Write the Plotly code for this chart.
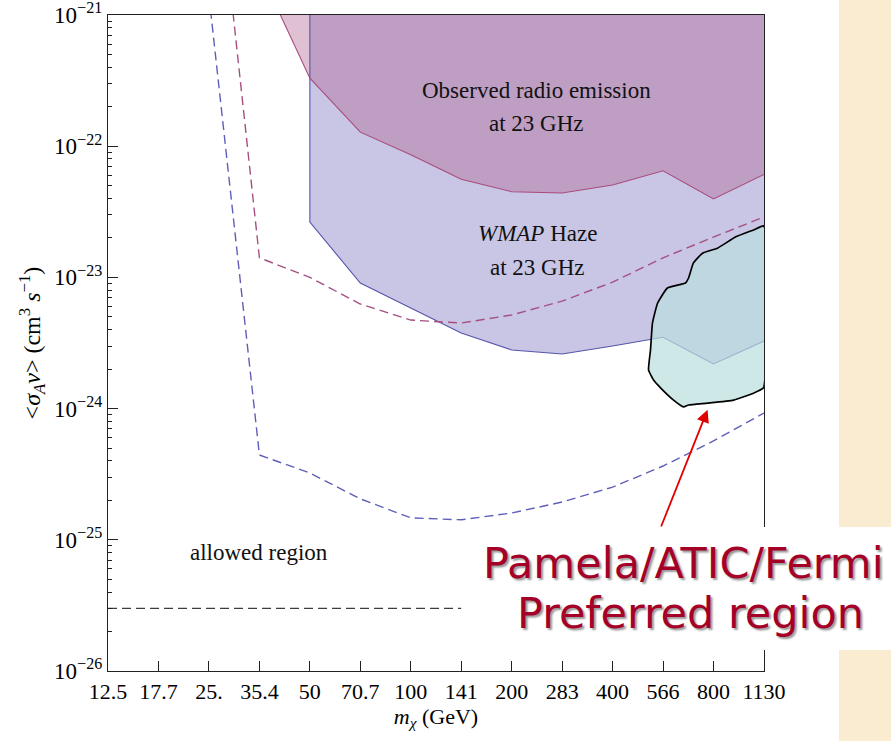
import numpy as np
import plotly.graph_objects as go

# ---------------- data ----------------
# x-axis tick values (GeV) and labels
tick_vals = [12.5 * np.sqrt(2) ** k for k in range(14)]
tick_text = ["12.5", "17.7", "25.", "35.4", "50", "70.7", "100", "141",
             "200", "283", "400", "566", "800", "1130"]
# y-axis decades
y_exponents = [-26, -25, -24, -23, -22, -21]

# Observed radio emission at 23 GHz (lower boundary of excluded region)
obs_mass = [35.36, 50, 70.71, 100, 141.4, 200, 282.8, 400, 565.7, 800, 1131.4]
obs_sigv = [2.2e-21, 3.3e-22, 1.28e-22, 8.6e-23, 5.6e-23, 4.5e-23, 4.4e-23,
            5.06e-23, 6.5e-23, 3.96e-23, 6.1e-23]

# WMAP Haze at 23 GHz (lower boundary of excluded region)
haze_mass = [50, 50, 70.71, 100, 141.4, 200, 282.8, 400, 565.7, 800, 1131.4]
haze_sigv = [1e-19, 2.64e-23, 9.06e-24, 5.85e-24, 3.77e-24, 2.80e-24, 2.61e-24,
             3.0e-24, 3.5e-24, 2.19e-24, 3.27e-24]

# dashed constraint curves
dash_mass = [25, 35.36, 50, 70.71, 100, 141.4, 200, 282.8, 400, 565.7, 800, 1131.4]
dash_red_sigv = [5.2e-20, 1.41e-23, 1.0e-23, 6.27e-24, 4.73e-24, 4.49e-24,
                 5.17e-24, 6.6e-24, 9.2e-24, 1.41e-23, 2.03e-23, 2.89e-23]
dash_blue_sigv = [1.4e-21, 4.43e-25, 3.23e-25, 2.05e-25, 1.47e-25, 1.42e-25,
                  1.6e-25, 1.94e-25, 2.52e-25, 3.65e-25, 5.67e-25, 9.25e-25]

# thermal relic cross-section line
relic_mass = [12.5, 141.4]
relic_sigv = [3e-26, 3e-26]

# Pamela/ATIC/Fermi preferred region outline
pref_mass = [1128, 1183, 1200, 1159, 1128, 1053, 918, 768, 674, 651, 608, 556,
             530, 512, 519, 526, 545, 583, 660, 674, 697, 742, 822, 930, 1053, 1128]
pref_sigv = [2.47e-23, 1.71e-23, 1.41e-23, 3.77e-24, 1.44e-24, 1.31e-24, 1.16e-24,
             1.10e-24, 1.065e-24, 1.03e-24, 1.16e-24, 1.44e-24, 1.65e-24, 1.97e-24,
             2.80e-24, 4.49e-24, 6.38e-24, 8.3e-24, 9.06e-24, 9.9e-24, 1.29e-23,
             1.53e-23, 1.67e-23, 2.03e-23, 2.30e-23, 2.47e-23]

# arrow (tail -> tip) pointing at the preferred region
arrow_tail = (556, 1.23e-25)
arrow_tip = (768, 9.8e-25)

TOP = 1e-19  # beyond the plotted range, used to close regions upward

# ---------------- figure ----------------
fig = go.Figure()

# WMAP haze region (fill)
fig.add_trace(go.Scatter(
    x=haze_mass + [haze_mass[-1]], y=haze_sigv + [TOP],
    fill="toself", fillcolor="rgb(200,198,228)", mode="lines",
    line=dict(width=0), hoverinfo="skip"))
# observed radio region (fill, translucent)
fig.add_trace(go.Scatter(
    x=obs_mass + [obs_mass[-1], obs_mass[0]], y=obs_sigv + [TOP, TOP],
    fill="toself", fillcolor="rgba(175,100,145,0.40)", mode="lines",
    line=dict(width=0), hoverinfo="skip"))
# boundaries
fig.add_trace(go.Scatter(x=haze_mass, y=haze_sigv, mode="lines",
                         line=dict(color="rgb(85,85,170)", width=1.1)))
fig.add_trace(go.Scatter(x=obs_mass, y=obs_sigv, mode="lines",
                         line=dict(color="rgb(170,75,125)", width=1.1)))
# dashed curves
fig.add_trace(go.Scatter(x=dash_mass, y=dash_red_sigv, mode="lines",
                         line=dict(color="rgb(165,80,130)", width=1.4, dash="9px,5px")))
fig.add_trace(go.Scatter(x=dash_mass, y=dash_blue_sigv, mode="lines",
                         line=dict(color="rgb(95,95,185)", width=1.4, dash="9px,5px")))
fig.add_trace(go.Scatter(x=relic_mass, y=relic_sigv, mode="lines",
                         line=dict(color="rgb(60,60,60)", width=1.4, dash="9px,5px")))
# preferred region
fig.add_trace(go.Scatter(
    x=pref_mass, y=pref_sigv, fill="toself", fillcolor="rgba(185,222,222,0.70)",
    mode="lines", line=dict(color="black", width=1.7, shape="spline", smoothing=0.4),
    hoverinfo="skip"))

serif = "Liberation Serif, Times New Roman, serif"

minor_y = [m * 10.0 ** e for e in y_exponents[:-1] for m in range(2, 10)]

fig.update_xaxes(
    type="log", range=[np.log10(tick_vals[0]) - 1e-4, np.log10(tick_vals[-1]) + 1e-4],
    tickmode="array", tickvals=tick_vals, ticktext=tick_text,
    ticks="inside", ticklen=10, tickwidth=1.2, tickcolor="#222",
    showline=True, mirror=True, linecolor="#222", linewidth=1.3,
    showgrid=False, zeroline=False, ticklabeloverflow="allow", automargin=False,
    tickfont=dict(family=serif, size=22, color="black"),
    title=dict(text="<i>m</i><sub><i>χ</i></sub> (GeV)",
               font=dict(family=serif, size=22, color="black"), standoff=5),
)
fig.update_yaxes(
    type="log", range=[y_exponents[0] - 1e-4, y_exponents[-1] + 1e-4],
    tickmode="array", tickvals=[10.0 ** e for e in y_exponents],
    ticktext=["10<sup>−%d</sup>" % (-e) for e in y_exponents],
    ticks="inside", ticklen=10, tickwidth=1.2, tickcolor="#222",
    minor=dict(ticks="inside", ticklen=4, tickcolor="#222", tickwidth=1,
               tickvals=minor_y, showgrid=False),
    showline=True, mirror=True, linecolor="#222", linewidth=1.3,
    showgrid=False, zeroline=False, ticklabeloverflow="allow", automargin=False,
    tickfont=dict(family=serif, size=23, color="black"),
    title=dict(text="&lt;<i>σ</i><sub><i>A</i></sub><i>v</i>&gt; (cm<sup>3</sup> <i>s</i><sup>−1</sup>)",
               font=dict(family=serif, size=24, color="black"), standoff=6),
)

lab_font = dict(family=serif, size=23, color="#111")
labels = [
    ("Observed radio emission", 237, 2.68e-22),
    ("at 23 GHz", 237, 1.48e-22),
    ("<i>WMAP</i> Haze", 238, 2.18e-23),
    ("at 23 GHz", 238, 1.2e-23),
    ("allowed region", 35.2, 7.94e-26),
]
for txt, lx, ly in labels:
    fig.add_annotation(x=np.log10(lx), y=np.log10(ly), xref="x", yref="y",
                       text=txt, showarrow=False, font=lab_font,
                       xanchor="center", yanchor="middle")

# red arrow
fig.add_annotation(x=np.log10(arrow_tip[0]), y=np.log10(arrow_tip[1]),
                   ax=np.log10(arrow_tail[0]), ay=np.log10(arrow_tail[1]),
                   xref="x", yref="y", axref="x", ayref="y", text="",
                   showarrow=True, arrowhead=2, arrowsize=1.4, arrowwidth=1.8,
                   arrowcolor="rgb(225,0,0)", standoff=0)

# background decorations: parchment strip on the right and white label box
fig.add_shape(type="rect", xref="paper", yref="paper",
              x0=1.1143, x1=1.25, y0=-0.25, y1=1.1,
              fillcolor="rgb(250,236,208)", line=dict(width=0), layer="below")
fig.add_shape(type="rect", xref="paper", yref="paper",
              x0=0.60, x1=1.25, y0=0.032, y1=0.2195,
              fillcolor="white", line=dict(width=0), layer="above")

red_font = dict(family="Comic Sans MS, DejaVu Sans, sans-serif", size=43,
                color="rgb(165,0,40)", shadow="2px 2px 2px #999999")
fig.add_annotation(x=0.877, y=0.165, xref="paper", yref="paper",
                   text="Pamela/ATIC/Fermi", showarrow=False,
                   xanchor="center", yanchor="middle", font=red_font)
fig.add_annotation(x=0.888, y=0.089, xref="paper", yref="paper",
                   text="Preferred region", showarrow=False,
                   xanchor="center", yanchor="middle", font=red_font)

fig.update_layout(
    width=891, height=741,
    margin=dict(l=108, r=127, t=15, b=70),
    paper_bgcolor="white", plot_bgcolor="white",
    showlegend=False, hovermode=False,
)

fig.write_html("out.html")
